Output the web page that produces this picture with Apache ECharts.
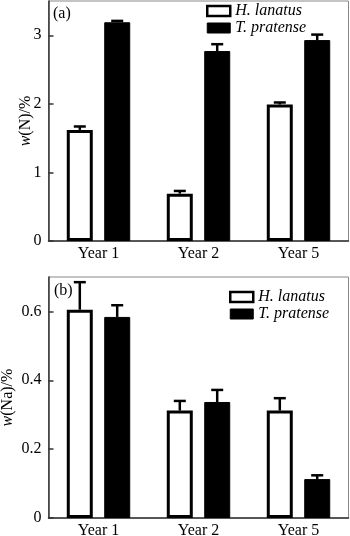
<!DOCTYPE html>
<html><head><meta charset="utf-8">
<script src="https://cdn.jsdelivr.net/npm/echarts@6/dist/echarts.min.js"></script>
<style>html,body{margin:0;padding:0;background:#fff}#c{width:350px;height:536px}</style>
</head><body><div id="c"></div>
<script>
const categories = ['Year 1', 'Year 2', 'Year 5'];
const seriesNames = ['H. lanatus', 'T. pratense'];
// Panel (a): w(N)/%
const nHL = [1.62, 0.69, 1.99];
const nHLErr = [0.05, 0.04, 0.03];
const nTP = [3.19, 2.77, 2.93];
const nTPErr = [0.02, 0.10, 0.08];
const nTicks = [0, 1, 2, 3];
// Panel (b): w(Na)/%
const naHL = [0.605, 0.312, 0.312];
const naHLErr = [0.08, 0.028, 0.036];
const naTP = [0.584, 0.337, 0.113];
const naTPErr = [0.034, 0.035, 0.011];
const naTicks = [0, 0.2, 0.4, 0.6];

const FONT = 'Liberation Serif';
const BAR_W = 26;
const OFF = 18.7;

function errRender(offset) {
  return function (params, api) {
    const b = api.coord([api.value(0), api.value(1)]);
    const t = api.coord([api.value(0), api.value(1) + api.value(2)]);
    const cx = b[0] + offset;
    return {
      type: 'group',
      children: [
        { type: 'line', shape: { x1: cx, y1: b[1], x2: cx, y2: t[1] }, style: { stroke: '#000', lineWidth: 2.5 } },
        { type: 'line', shape: { x1: cx - 6, y1: t[1], x2: cx + 6, y2: t[1] }, style: { stroke: '#000', lineWidth: 2.5 } }
      ]
    };
  };
}
function errData(vals, errs) { return vals.map((v, i) => [i, v, errs[i]]); }

function xAxis(gi) {
  return {
    type: 'category', gridIndex: gi, data: categories,
    axisLine: { lineStyle: { color: '#333', width: 1.5 } },
    axisTick: { show: false },
    axisLabel: { color: '#000', fontFamily: FONT, fontSize: 16, margin: 5 }
  };
}
function yAxis(gi, max, interval, ticks, name, gap) {
  return {
    type: 'value', gridIndex: gi, min: 0, max: max, interval: interval,
    name: name, nameLocation: 'middle', nameGap: gap, nameRotate: 90, nameMoveOverlap: false,
    nameTextStyle: { color: '#000', fontFamily: FONT, fontSize: 16,
      rich: { i: { fontStyle: 'italic', fontFamily: FONT, fontSize: 16, color: '#000' } } },
    splitLine: { show: false },
    axisLine: { show: true, lineStyle: { color: '#333', width: 1.5 } },
    axisTick: { show: true, inside: true, length: 5, customValues: ticks, lineStyle: { color: '#333', width: 1.5 } },
    axisLabel: { color: '#000', fontFamily: FONT, fontSize: 16, margin: 7, customValues: ticks }
  };
}
function bars(gi, hl, tp) {
  return [
    { name: seriesNames[0], type: 'bar', xAxisIndex: gi, yAxisIndex: gi, data: hl, barWidth: BAR_W, barGap: '44%',
      itemStyle: { color: '#fff', borderColor: '#000', borderWidth: 3 } },
    { name: seriesNames[1], type: 'bar', xAxisIndex: gi, yAxisIndex: gi, data: tp, barWidth: BAR_W, barGap: '44%',
      itemStyle: { color: '#000', borderColor: '#000', borderWidth: 1 } }
  ];
}
function errs(gi, hl, hle, tp, tpe) {
  return [
    { name: 'eH' + gi, type: 'custom', xAxisIndex: gi, yAxisIndex: gi, z: 5, renderItem: errRender(-OFF),
      data: errData(hl, hle), encode: { x: 0, y: 1 } },
    { name: 'eT' + gi, type: 'custom', xAxisIndex: gi, yAxisIndex: gi, z: 5, renderItem: errRender(OFF),
      data: errData(tp, tpe), encode: { x: 0, y: 1 } }
  ];
}
function legend(left, top) {
  return {
    orient: 'vertical', left: left, top: top, itemWidth: 23, itemHeight: 10, itemGap: 1, padding: 0,
    selectedMode: false, icon: 'rect',
    textStyle: { color: '#000', fontFamily: FONT, fontStyle: 'italic', fontSize: 16 },
    data: [
      { name: seriesNames[0], icon: 'rect', itemStyle: { color: '#fff', borderColor: '#000', borderWidth: 2.5 } },
      { name: seriesNames[1], icon: 'rect', itemStyle: { color: '#000', borderColor: '#000', borderWidth: 1 } }
    ]
  };
}

const chart = echarts.init(document.getElementById('c'), null, { renderer: 'canvas' });
chart.setOption({
  animation: false,
  backgroundColor: '#fff',
  title: [
    { text: '(a)', left: 53, top: 6, padding: 0, textStyle: { fontFamily: FONT, fontWeight: 'normal', fontSize: 16, color: '#000' } },
    { text: '(b)', left: 54, top: 283, padding: 0, textStyle: { fontFamily: FONT, fontWeight: 'normal', fontSize: 16, color: '#000' } }
  ],
  legend: [legend(206, 3), legend(229, 289)],
  grid: [
    { left: 48.5, right: 1.5, top: 1, height: 240, show: true, borderColor: '#888', borderWidth: 1, backgroundColor: 'transparent', outerBoundsMode: 'none', containLabel: false },
    { left: 48.5, right: 1.5, top: 277, height: 241, show: true, borderColor: '#888', borderWidth: 1, backgroundColor: 'transparent', outerBoundsMode: 'none', containLabel: false }
  ],
  xAxis: [xAxis(0), xAxis(1)],
  yAxis: [
    yAxis(0, 3.5, 1, nTicks, '{i|w}(N)/%', 15),
    yAxis(1, 0.7, 0.1, naTicks, '{i|w}(Na)/%', 33)
  ],
  series: [].concat(bars(0, nHL, nTP), errs(0, nHL, nHLErr, nTP, nTPErr), bars(1, naHL, naTP), errs(1, naHL, naHLErr, naTP, naTPErr))
});
</script></body></html>
